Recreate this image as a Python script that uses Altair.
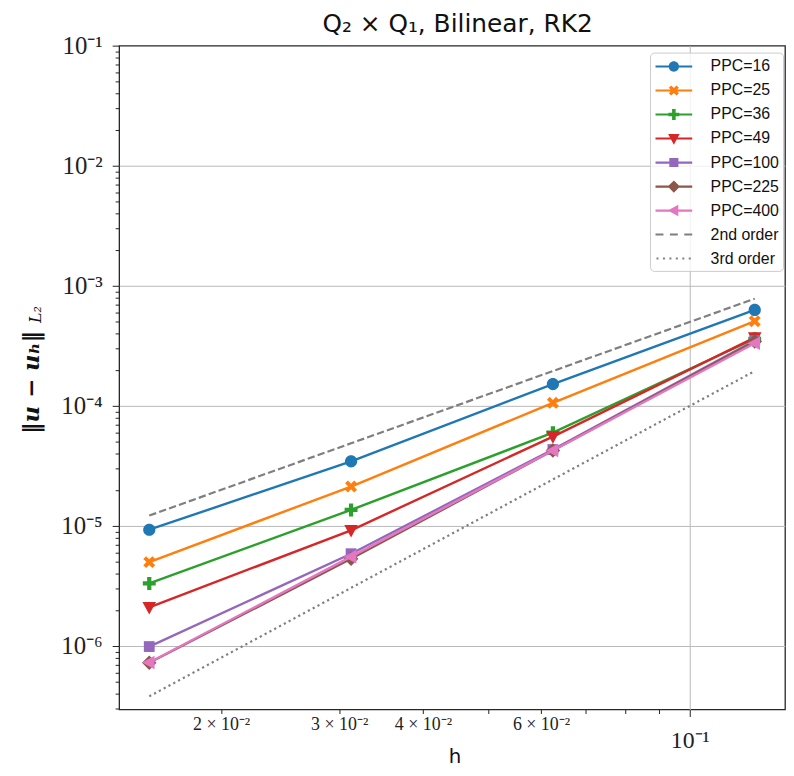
import altair as alt
import pandas as pd

# ---------------- data ----------------
h = [0.015625, 0.03125, 0.0625, 0.125]

series_labels = ["PPC=16", "PPC=25", "PPC=36", "PPC=49", "PPC=100", "PPC=225", "PPC=400"]
err_ppc16 = [9.3e-6, 3.45e-5, 1.52e-4, 6.3e-4]
err_ppc25 = [5.0e-6, 2.13e-5, 1.06e-4, 5.07e-4]
err_ppc36 = [3.32e-6, 1.36e-5, 5.98e-5, 3.62e-4]
err_ppc49 = [2.1e-6, 9.2e-6, 5.55e-5, 3.7e-4]
err_ppc100 = [9.9e-7, 5.87e-6, 4.33e-5, 3.5e-4]
err_ppc225 = [7.25e-7, 5.33e-6, 4.25e-5, 3.44e-4]
err_ppc400 = [7.3e-7, 5.55e-6, 4.25e-5, 3.32e-4]
series_errs = [err_ppc16, err_ppc25, err_ppc36, err_ppc49, err_ppc100, err_ppc225, err_ppc400]

ref_labels = ["2nd order", "3rd order"]
ref_2nd = [1.22e-5, 4.88e-5, 1.95e-4, 7.81e-4]
ref_3rd = [3.81e-7, 3.05e-6, 2.44e-5, 1.95e-4]

title_text = "Q₂ × Q₁, Bilinear, RK2"
x_title = "h"
y_title = "‖u − uₕ‖"
y_title_sub = "L₂"

# tick values / labels
x_ticks = [0.02, 0.03, 0.04, 0.05, 0.06, 0.07, 0.08, 0.09, 0.1]
x_tick_values_labeled = [0.02, 0.03, 0.04, 0.06, 0.1]
x_tick_labels = ["2 × 10⁻²", "3 × 10⁻²", "4 × 10⁻²", "6 × 10⁻²", "10⁻¹"]

y_major_ticks = [1e-6, 1e-5, 1e-4, 1e-3, 1e-2, 1e-1]
y_major_labels = ["10⁻⁶", "10⁻⁵", "10⁻⁴", "10⁻³", "10⁻²", "10⁻¹"]
y_minor_ticks = [3e-7, 4e-7, 5e-7, 6e-7, 7e-7, 8e-7, 9e-7,
                 2e-6, 3e-6, 4e-6, 5e-6, 6e-6, 7e-6, 8e-6, 9e-6,
                 2e-5, 3e-5, 4e-5, 5e-5, 6e-5, 7e-5, 8e-5, 9e-5,
                 2e-4, 3e-4, 4e-4, 5e-4, 6e-4, 7e-4, 8e-4, 9e-4,
                 2e-3, 3e-3, 4e-3, 5e-3, 6e-3, 7e-3, 8e-3, 9e-3,
                 2e-2, 3e-2, 4e-2, 5e-2, 6e-2, 7e-2, 8e-2, 9e-2]

# ---------------- styles ----------------
series_colors = ["#1f77b4", "#ff7f0e", "#2ca02c", "#d62728", "#9467bd", "#8c564b", "#e377c2"]
ref_color = "#7f7f7f"


def poly(pts):
    n = len(pts)
    area = sum(pts[i][0] * pts[(i + 1) % n][1] - pts[(i + 1) % n][0] * pts[i][1] for i in range(n))
    if area < 0:
        pts = pts[::-1]
    return "M" + "L".join(f"{x:.3f},{y:.3f}" for x, y in pts) + "Z"


def rect(x0, x1, y0, y1):
    return poly([(x0, y0), (x1, y0), (x1, y1), (x0, y1)])


circle = "M0.52,0A0.52,0.52,0,1,1,-0.52,0A0.52,0.52,0,1,1,0.52,0Z"
xmark = poly([(0.2687, -0.5091), (0.5091, -0.2687), (0.2404, 0), (0.5091, 0.2687),
              (0.2687, 0.5091), (0, 0.2404), (-0.2687, 0.5091), (-0.5091, 0.2687),
              (-0.2404, 0), (-0.5091, -0.2687), (-0.2687, -0.5091), (0, -0.2404)])
e, t = 0.55, 0.18
plus = poly([(-t, -e), (t, -e), (t, -t), (e, -t), (e, t), (t, t), (t, e), (-t, e),
             (-t, t), (-e, t), (-e, -t), (-t, -t)])
tri_down = poly([(-0.58, -0.45), (0.58, -0.45), (0, 0.62)])
square = rect(-0.46, 0.46, -0.46, 0.46)
diamond = poly([(0, -0.62), (0.62, 0), (0, 0.62), (-0.62, 0)])
tri_left = poly([(-0.62, 0), (0.45, -0.58), (0.45, 0.58)])
series_markers = [circle, xmark, plus, tri_down, square, diamond, tri_left]

legend_line = rect(-1.85, 1.85, -0.11, 0.11)
legend_series_paths = [legend_line + " " + m for m in series_markers]
legend_dashed = " ".join(rect(a, b, -0.1, 0.1) for a, b in [(-1.85, -1.05), (-0.4, 0.4), (1.05, 1.85)])
legend_dotted = " ".join(rect(c - 0.1, c + 0.1, -0.1, 0.1) for c in [-1.65, -1.0, -0.35, 0.3, 0.95, 1.6])

all_labels = series_labels + ref_labels
color_scale = alt.Scale(domain=all_labels, range=series_colors + [ref_color, ref_color])
shape_scale = alt.Scale(domain=all_labels, range=legend_series_paths + [legend_dashed, legend_dotted])

# ---------------- axes ----------------
def match_expr(vals):
    return " || ".join(f"abs(datum.value/{v!r} - 1) < 1e-6" for v in vals)


def label_expr(vals, labs):
    expr = "''"
    for v, lab in reversed(list(zip(vals, labs))):
        expr = f"abs(datum.value/{v!r} - 1) < 1e-6 ? '{lab}' : ({expr})"
    return expr


x_major = "datum.value > 0.095"
x_axis = alt.Axis(
    values=x_ticks,
    labelExpr=label_expr(x_tick_values_labeled, x_tick_labels),
    labelFont="Liberation Serif",
    labelFontSize={"condition": {"test": x_major, "value": 24}, "value": 18},
    labelPadding={"condition": {"test": x_major, "value": 12}, "value": 2},
    labelBaseline="top",
    labelColor="#222222",
    labelFlush=False,
    labelOverlap=False,
    tickSize={"condition": {"test": x_major, "value": 7}, "value": 4},
    tickColor="#222222",
    tickWidth=1,
    grid=True,
    gridColor="#b8b8b8",
    gridWidth=1,
    gridOpacity={"condition": {"test": x_major, "value": 1}, "value": 0},
    domain=False,
    title=x_title,
    titleFont="DejaVu Sans",
    titleFontSize=20,
    titleFontWeight="normal",
    titleColor="#111111",
    titleBaseline="alphabetic",
    titleX=338,
    titleY=53,
)

y_major = match_expr(y_major_ticks)
y_axis = alt.Axis(
    values=y_major_ticks + y_minor_ticks,
    labelExpr=label_expr(y_major_ticks, y_major_labels),
    labelFont="Liberation Serif",
    labelFontSize=25,
    labelPadding=10,
    labelBaseline="middle",
    labelColor="#222222",
    labelFlush=False,
    labelOverlap=False,
    tickSize={"condition": {"test": y_major, "value": 7}, "value": 4},
    tickColor="#222222",
    tickWidth=1,
    grid=True,
    gridColor="#b8b8b8",
    gridWidth=1,
    gridOpacity={"condition": {"test": f"({y_major}) && datum.value < 0.05", "value": 1}, "value": 0},
    domain=False,
    title=y_title,
    titleFont="DejaVu Serif",
    titleFontSize=23,
    titleFontStyle="italic",
    titleFontWeight="bold",
    titleColor="#111111",
    titleAngle=270,
    titleAlign="center",
    titleBaseline="middle",
    titleX=-88,
    titleY=339,
)

x_scale = alt.Scale(type="log", domain=[0.01409, 0.1387], nice=False)
y_scale = alt.Scale(type="log", domain=[2.96e-7, 0.1], nice=False)
X = alt.X("h:Q", scale=x_scale, axis=x_axis)
Y = alt.Y("err:Q", scale=y_scale, axis=y_axis)

legend = alt.Legend(
    title=None,
    orient="none",
    legendX=535,
    legendY=7,
    symbolSize=400,
    symbolStrokeWidth=0,
    symbolOpacity=1,
    symbolOffset=10,
    labelOffset=27,
    labelFont="Liberation Sans",
    labelFontSize=16,
    labelColor="#111111",
    padding=4,
    rowPadding=6.2,
    fillColor="rgba(255,255,255,0.8)",
    strokeColor="#cccccc",
    cornerRadius=4,
)

# ---------------- layers ----------------
layers = []
for lab, errs, col, mk in zip(series_labels, series_errs, series_colors, series_markers):
    df = pd.DataFrame({"h": h, "err": errs, "series": lab})
    base = alt.Chart(df).encode(x=X, y=Y)
    layers.append(base.mark_line(strokeWidth=2.4, color=col))
    layers.append(base.mark_point(filled=True, size=560, opacity=1, strokeWidth=0, shape=mk, color=col))

df2 = pd.DataFrame({"h": h, "err": ref_2nd})
df3 = pd.DataFrame({"h": h, "err": ref_3rd})
layers.append(alt.Chart(df2).mark_line(color=ref_color, strokeWidth=2.2, strokeDash=[7.4, 3.2]).encode(x=X, y=Y))
layers.append(alt.Chart(df3).mark_line(color=ref_color, strokeWidth=2.2, strokeDash=[2.2, 3.3]).encode(x=X, y=Y))

# legend-only layer (no marks drawn, only the legend from its scales)
leg_df = pd.DataFrame({"series": all_labels})
layers.append(
    alt.Chart(leg_df)
    .transform_filter("false")
    .mark_point(filled=True, opacity=1, size=400)
    .encode(
        color=alt.Color("series:N", scale=color_scale, legend=legend),
        shape=alt.Shape("series:N", scale=shape_scale, legend=legend),
    )
)

sub_df = pd.DataFrame({"t": [y_title_sub]})
layers.append(
    alt.Chart(sub_df)
    .mark_text(angle=270, font="DejaVu Serif", fontStyle="italic", fontSize=16,
               baseline="middle", align="center", color="#111111")
    .encode(text="t:N", x=alt.value(-84), y=alt.value(271))
)

title_df = pd.DataFrame({"t": [title_text]})
layers.append(
    alt.Chart(title_df)
    .mark_text(font="DejaVu Sans", fontSize=25, baseline="alphabetic", align="center", color="#111111")
    .encode(text="t:N", x=alt.value(341), y=alt.value(-14))
)

chart = (
    alt.layer(*layers)
    .properties(
        width=671,
        height=669,
        padding={"left": 112, "top": 35, "right": 1, "bottom": 56},
        autosize=alt.AutoSizeParams(type="none"),
    )
    .configure(background="white")
    .configure_view(stroke="#262626", strokeWidth=1.3)
)

chart.save("out.html", embed_options={"renderer": "svg", "actions": False})
